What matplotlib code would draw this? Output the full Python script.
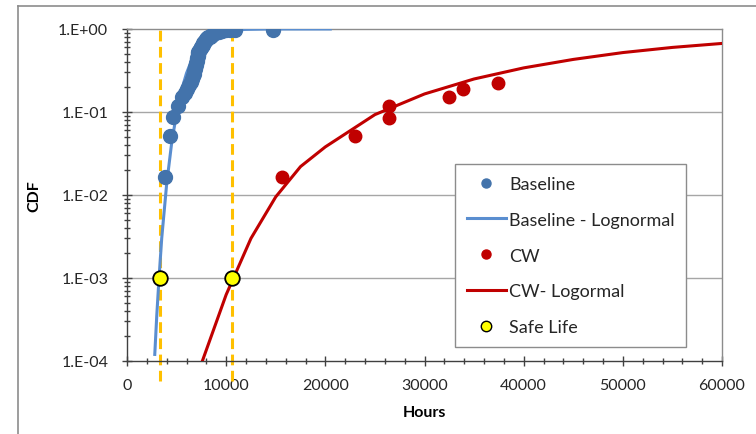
import numpy as np
import matplotlib
matplotlib.use("Agg")
import matplotlib.pyplot as plt
from matplotlib.ticker import FixedLocator, MultipleLocator, FuncFormatter, LogLocator, NullFormatter
from matplotlib.lines import Line2D

plt.rcParams['font.family'] = ['Lato', 'DejaVu Sans']

# Baseline failure data (hours, CDF)
baseline_hours = [3830, 4340, 4640, 5140, 5520, 5850, 6100, 6290, 6420, 6540,
                  6660, 6730, 6800, 6860, 6900, 6940, 6980, 7020, 7050, 7080,
                  7110, 7140, 7170, 7210, 7290, 7370, 7440, 7500, 7540, 7620,
                  7700, 7780, 7850, 7930, 8010, 8090, 8210, 8330, 8460, 8580,
                  8700, 8890, 9100, 9300, 9600, 10000, 10400, 10900, 14720]
baseline_cdf = [0.0165, 0.051, 0.087, 0.118, 0.150, 0.170, 0.190, 0.210, 0.230, 0.250,
                0.270, 0.290, 0.310, 0.330, 0.350, 0.370, 0.390, 0.410, 0.430, 0.450,
                0.470, 0.490, 0.510, 0.530, 0.550, 0.570, 0.590, 0.610, 0.630, 0.650,
                0.670, 0.690, 0.710, 0.730, 0.750, 0.770, 0.790, 0.810, 0.830, 0.850,
                0.870, 0.890, 0.910, 0.930, 0.945, 0.960, 0.970, 0.975, 0.985]

# Baseline lognormal fit
baseline_fit_hours = [2800, 3000, 3230, 3500, 4000, 4500, 5000, 5500, 6000, 6500,
                      7000, 8000, 9000, 10000, 11000, 12000, 14000, 16000, 20500]
baseline_fit_cdf = [1.2e-4, 3.5e-4, 1.0e-3, 3.0e-3, 0.0136, 0.042, 0.097, 0.183, 0.293, 0.414,
                    0.534, 0.737, 0.868, 0.939, 0.974, 0.989, 0.998, 0.9995, 0.9999]

# CW failure data
cw_hours = [15600, 23000, 26400, 26400, 32500, 33900, 37400]
cw_cdf = [0.0165, 0.051, 0.085, 0.118, 0.151, 0.189, 0.224]

# CW lognormal fit
cw_fit_hours = [7600, 10000, 12500, 15000, 17500, 20000, 25000, 30000, 35000,
                40000, 45000, 50000, 55000, 60000]
cw_fit_cdf = [1.0e-4, 6.3e-4, 3.0e-3, 9.5e-3, 0.022, 0.038, 0.093, 0.165, 0.25,
              0.34, 0.43, 0.52, 0.60, 0.67]

# Safe life points
safe_hours = [3300, 10550]
safe_cdf = [1e-3, 1e-3]

y_ticks = [1e-4, 1e-3, 1e-2, 1e-1, 1e0]
x_ticks = [0, 10000, 20000, 30000, 40000, 50000, 60000]
legend_labels = ['Baseline', 'Baseline - Lognormal', 'CW', 'CW- Logormal', 'Safe Life']

blue_pt = '#4373AB'
blue_ln = '#5A8ED0'
red = '#C00000'
gold = '#FFC000'

fig = plt.figure(figsize=(7.56, 4.35), dpi=100)
ax = fig.add_axes([127/756, 1-362/435, (722-127)/756, (362-30)/435])

# figure border
fig.add_artist(Line2D([18/756, 18/756], [1-7/435, 0], transform=fig.transFigure, color='#8C8C8C', lw=1.2))
fig.add_artist(Line2D([18/756, 1], [1-7/435, 1-7/435], transform=fig.transFigure, color='#8C8C8C', lw=1.2))

ax.set_yscale('log')
ax.set_xlim(0, 60000)
ax.set_ylim(1e-4, 1)

for yv in y_ticks[1:-1]:
    ax.axhline(yv, color='#A6A6A6', lw=1.0, zorder=0)

for xv in safe_hours:
    ax.plot([xv, xv], [5.7e-5, 1.0], color=gold, lw=2.2, dashes=(3.5, 1.8), clip_on=False, zorder=2)

ax.plot(baseline_fit_hours, baseline_fit_cdf, color=blue_ln, lw=2.2, zorder=3)
ax.plot(cw_fit_hours, cw_fit_cdf, color=red, lw=2.2, zorder=3)
ax.plot(baseline_hours, baseline_cdf, 'o', color=blue_pt, ms=10, mec=blue_pt, zorder=4)
ax.plot(cw_hours, cw_cdf, 'o', color=red, ms=9, zorder=4)
ax.plot(safe_hours, safe_cdf, 'o', color='#FFFF00', mec='#000000', mew=1.3, ms=10.5, zorder=5)

ax.yaxis.set_major_locator(FixedLocator(y_ticks))
ax.yaxis.set_minor_locator(LogLocator(base=10, subs=np.arange(2, 10)))
ax.yaxis.set_minor_formatter(NullFormatter())
ax.yaxis.set_major_formatter(FuncFormatter(lambda v, p: "1.E%+03d" % int(round(np.log10(v)))))
ax.xaxis.set_major_locator(FixedLocator(x_ticks))
ax.xaxis.set_minor_locator(MultipleLocator(2000))

ax.tick_params(which='major', direction='inout', length=7, width=1, color='#404040',
               labelsize=11.5, labelcolor='#262626')
ax.tick_params(axis='y', which='major', pad=10)
ax.tick_params(axis='x', which='major', pad=9)
ax.tick_params(which='minor', direction='inout', length=5, width=1, color='#404040')

ax.spines['left'].set_color('#404040')
ax.spines['bottom'].set_color('#404040')
ax.spines['top'].set_color('#8C8C8C')
ax.spines['right'].set_color('#8C8C8C')
for s in ax.spines.values():
    s.set_linewidth(1.0)

ax.set_xlabel('Hours', fontsize=11.5, fontweight='bold', color='#000000', labelpad=9)
ax.set_ylabel('CDF', fontsize=11.5, fontweight='bold', color='#000000', labelpad=12)

leg_handles = [
    Line2D([], [], ls='none', marker='o', color=blue_pt, ms=6.5),
    Line2D([], [], color=blue_ln, lw=2.2),
    Line2D([], [], ls='none', marker='o', color=red, ms=6.5),
    Line2D([], [], color=red, lw=2.2),
    Line2D([], [], ls='none', marker='o', mfc='#FFFF00', mec='#000000', mew=1.0, ms=7.5),
]
leg = ax.legend(leg_handles, legend_labels, loc='upper left', bbox_to_anchor=(0.551, 0.593),
                fontsize=13, frameon=True, fancybox=False, edgecolor='#8C8C8C',
                framealpha=1, handlelength=2.2, handletextpad=0.15, labelspacing=1.1,
                borderpad=0.65, borderaxespad=0)
leg.get_frame().set_linewidth(1.0)
for t in leg.get_texts():
    t.set_color('#262626')

fig.savefig('out.png', dpi=100)
